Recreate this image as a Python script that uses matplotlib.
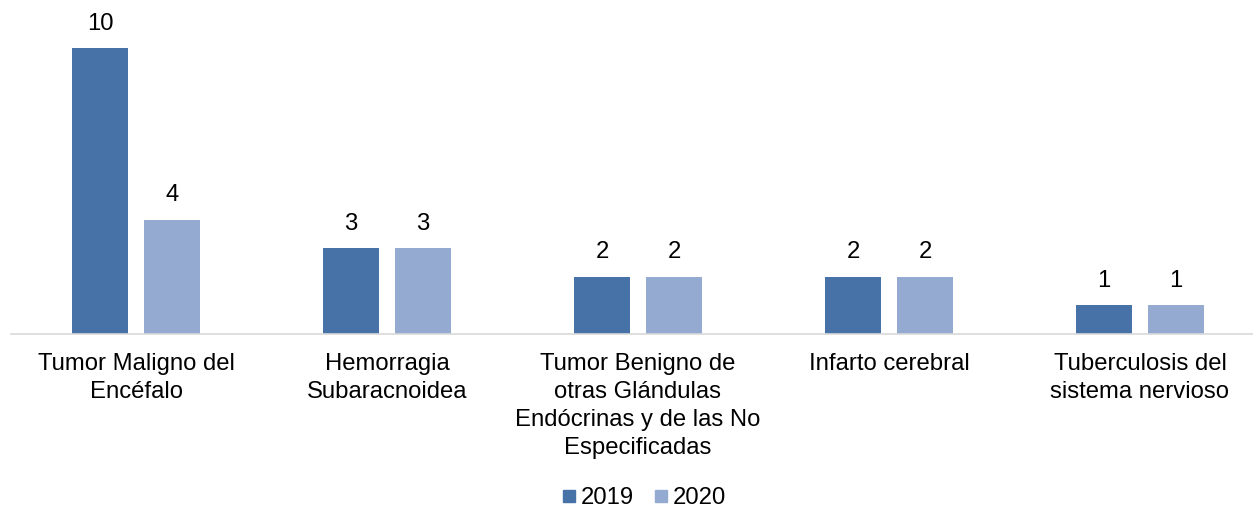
import matplotlib
matplotlib.use("Agg")
import matplotlib.pyplot as plt
from matplotlib.lines import Line2D
import numpy as np

categories = ["Tumor Maligno del\nEncéfalo",
              "Hemorragia\nSubaracnoidea",
              "Tumor Benigno de\notras Glándulas\nEndócrinas y de las No\nEspecificadas",
              "Infarto cerebral",
              "Tuberculosis del\nsistema nervioso"]
series_names = ["2019", "2020"]
values_2019 = [10, 3, 2, 2, 1]
values_2020 = [4, 3, 2, 2, 1]
colors = ["#4672A8", "#95AAD1"]

plt.rcParams['font.family'] = ['Liberation Sans', 'DejaVu Sans']
FS = 17.2

W, H = 1253, 508
fig = plt.figure(figsize=(W/100, H/100), dpi=100)
left_px, right_px, base_px = 10.5, 1265.5, 334
ax = fig.add_axes([left_px/W, (H-base_px)/H, (right_px-left_px)/W, base_px/H])

x = np.arange(len(categories))
bw = 56/251
off = 36/251
for vals, c, dx, name in [(values_2019, colors[0], -off, series_names[0]),
                          (values_2020, colors[1], off, series_names[1])]:
    bars = ax.bar(x + dx, vals, width=bw, color=c, label=name)
    for b, v in zip(bars, vals):
        ax.annotate(str(v), (b.get_x()+b.get_width()/2, v), xytext=(0, 17.5),
                    textcoords="offset points", ha="center", va="center",
                    fontsize=FS, color="#000000")

ax.set_xlim(-0.5, 4.5)
ax.set_ylim(0, base_px/((334-48)/10))
for s in ["top", "left", "right"]:
    ax.spines[s].set_visible(False)
ax.spines["bottom"].set_color("#D9D9D9")
ax.spines["bottom"].set_linewidth(1.2)
ax.set_yticks([])
ax.set_xticks(x)
ax.set_xticklabels(categories, fontsize=FS, linespacing=1.34, va="top")
ax.tick_params(axis="x", length=0, pad=14)

handles = [Line2D([], [], marker="s", linestyle="none", markersize=9,
                  markerfacecolor=c, markeredgecolor=c) for c in colors]
fig.legend(handles, series_names, loc="center", bbox_to_anchor=(0.512, 9.5/508),
           ncol=2, frameon=False, fontsize=FS, handletextpad=0.0,
           columnspacing=0.6, handlelength=1.0)

fig.savefig("out.png", dpi=100)
